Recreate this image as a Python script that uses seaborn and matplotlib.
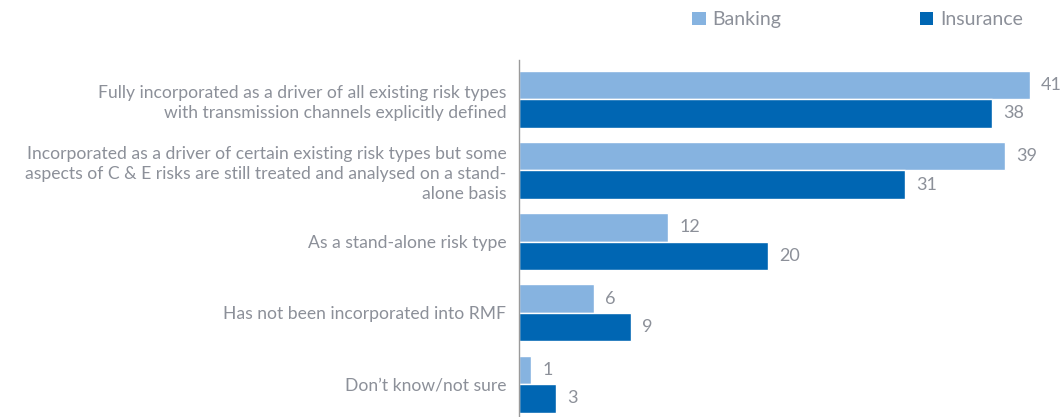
import numpy as np
import pandas as pd
import matplotlib
matplotlib.use("Agg")
from matplotlib import pyplot as plt
from matplotlib.patches import Patch
import seaborn as sns

categories = [
    "Fully incorporated as a driver of all existing risk types\nwith transmission channels explicitly defined",
    "Incorporated as a driver of certain existing risk types but some\naspects of C & E risks are still treated and analysed on a stand-\nalone basis",
    "As a stand-alone risk type",
    "Has not been incorporated into RMF",
    "Don\u2019t know/not sure",
]
banking = [41, 39, 12, 6, 1]
insurance = [38, 31, 20, 9, 3]
series = ["Banking", "Insurance"]
colors = ["#86B3E0", "#0066B3"]
grey = "#8C9099"

df = pd.DataFrame({
    "category": categories * 2,
    "sector": ["Banking"] * len(categories) + ["Insurance"] * len(categories),
    "value": banking + insurance,
})

sns.set_style("white")
plt.rcParams["font.family"] = ["Lato", "DejaVu Sans"]

fig = plt.figure(figsize=(10.61, 4.17), dpi=100)
ax = fig.add_axes([0.489, 0.0, 0.511, 0.856])

sns.barplot(data=df, y="category", x="value", hue="sector", palette=colors,
            width=0.8, legend=False, ax=ax, saturation=1)

for cont in ax.containers:
    ax.bar_label(cont, padding=8, color=grey, fontsize=13)

ax.set_xlim(0, 43.5)
ax.set_ylim(4.46, -0.55)
ax.set_xlabel("")
ax.set_ylabel("")
ax.set_xticks([])
ax.tick_params(axis="y", length=0, pad=9, labelsize=12.6, labelcolor=grey)
for lab in ax.get_yticklabels():
    lab.set_horizontalalignment("right")
    lab.set_multialignment("right")
    lab.set_linespacing(1.3)

sns.despine(ax=ax, top=True, right=True, bottom=True)
ax.spines["left"].set_color("#9A9A9A")
ax.spines["left"].set_linewidth(1)

handles = [Patch(facecolor=c, edgecolor="none") for c in colors]
fig.legend(handles, series, loc="upper left", bbox_to_anchor=(0.636, 1.015),
           ncol=2, frameon=False, fontsize=14, labelcolor=grey,
           handlelength=0.7, handleheight=0.7, handletextpad=0.35,
           columnspacing=7.1)

fig.savefig("out.png", dpi=100)
